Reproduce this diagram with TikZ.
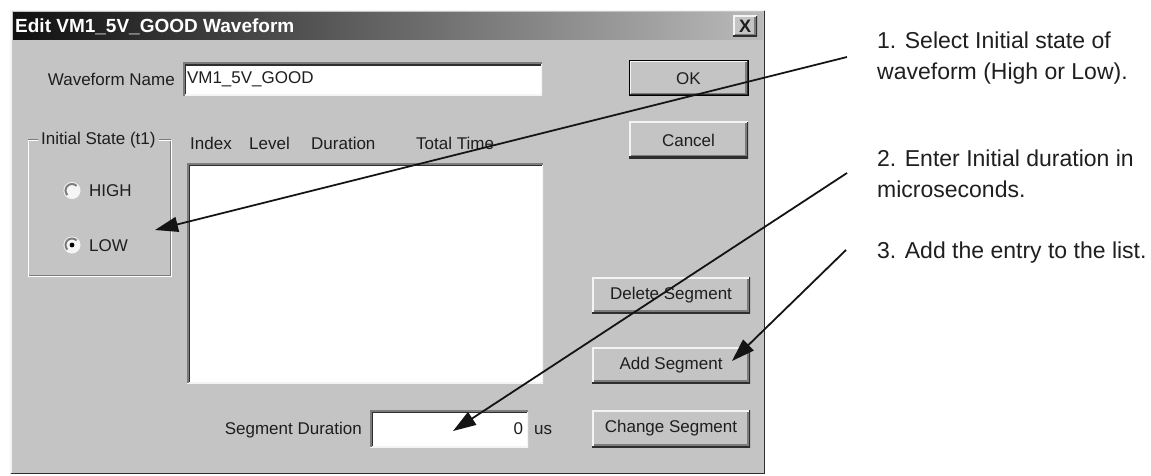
\documentclass[tikz,border=0pt]{standalone}
\usepackage{fontspec}
\setmainfont{Liberation Sans}
\usetikzlibrary{arrows.meta}
\definecolor{winbg}{HTML}{C4C4C4}
\definecolor{wintext}{HTML}{1E1E1E}
\definecolor{shadowc}{HTML}{7C7C7C}
\definecolor{darkc}{HTML}{2E2E2E}
\definecolor{lightc}{HTML}{F4F4F4}
\definecolor{titleL}{HTML}{101010}
\definecolor{titleR}{HTML}{BABABA}
\begin{document}
\begin{tikzpicture}[x=1pt,y=-1pt,
  dlg/.style={font=\fontsize{17}{20}\selectfont, text=wintext, inner sep=0pt},
  note/.style={font=\fontsize{23}{31}\selectfont, text=black!88, inner sep=0pt, align=left, anchor=base west},
  raised/.style={fill=winbg, inner sep=0pt, dlg, path picture={
      \draw[lightc,line width=3pt] (path picture bounding box.south west) -- (path picture bounding box.north west) -- (path picture bounding box.north east);
      \draw[darkc,line width=3pt] (path picture bounding box.south west) -- (path picture bounding box.south east) -- (path picture bounding box.north east);
      \draw[shadowc,line width=1.5pt] ([xshift=1.5pt,yshift=2.25pt]path picture bounding box.south west) -- ([xshift=-2.25pt,yshift=2.25pt]path picture bounding box.south east) -- ([xshift=-2.25pt,yshift=-1.5pt]path picture bounding box.north east);
  }},
  sunken/.style={fill=white, inner sep=0pt, path picture={
      \draw[lightc,line width=3pt] (path picture bounding box.south west) -- (path picture bounding box.south east) -- (path picture bounding box.north east);
      \draw[shadowc,line width=3pt] (path picture bounding box.south west) -- (path picture bounding box.north west) -- (path picture bounding box.north east);
      \draw[darkc,line width=1.5pt] ([xshift=2.25pt,yshift=1.5pt]path picture bounding box.south west) -- ([xshift=2.25pt,yshift=-2.25pt]path picture bounding box.north west) -- ([xshift=-1.5pt,yshift=-2.25pt]path picture bounding box.north east);
  }},
  radio/.style={circle, minimum size=16pt, inner sep=0pt, fill=white!96!black, draw=lightc, line width=1pt},
  rim/.style={shadowc, line width=2pt},
  arr/.style={line width=1.8pt, draw=black!92, -{Triangle[length=23pt,width=15pt]}},
]
\useasboundingbox (0,0) rectangle (1151,476);
\fill[white] (0,0) rectangle (1151,476);

% window frame
\fill[winbg] (10,10) rectangle (765,474);
\draw[lightc,line width=1.5pt] (10.75,473.25) -- (10.75,10.75) -- (764.25,10.75);
\draw[darkc,line width=1.5pt] (10.75,473.25) -- (764.25,473.25) -- (764.25,10.75);

% title bar
\shade[left color=titleL, right color=titleR] (13,13) rectangle (763,40);
\node[anchor=west, inner sep=0pt, text=white, font=\fontsize{19}{22}\bfseries] (title) at (15,27) {Edit VM1\_5V\_GOOD Waveform};
\node[raised, minimum width=24pt, minimum height=21pt, font=\fontsize{18}{18}\bfseries] (close) at (745,26.5) {X};

% waveform name
\node[dlg, anchor=east] (namelbl) at (175,79) {Waveform Name};
\node[sunken, minimum width=359pt, minimum height=33pt] (namefield) at (362.5,79.5) {};
\node[dlg, anchor=west] (nametext) at ([xshift=4pt]namefield.west) {VM1\_5V\_GOOD};

% OK / Cancel
\node[raised, minimum width=119pt, minimum height=35pt, draw=black, line width=1pt] (ok) at (688.5,78.5) {OK};
\node[raised, minimum width=119pt, minimum height=36pt] (cancel) at (688.5,140) {Cancel};

% initial state group
\node[draw=shadowc, line width=1pt, minimum width=142pt, minimum height=135pt, inner sep=0pt] (grp) at (99,207.5) {};
\draw[white, line width=1pt] ([xshift=1pt,yshift=-1pt]grp.south west) -- ([xshift=1pt,yshift=-1pt]grp.north west) -- ([xshift=1pt,yshift=-1pt]grp.north east) -- ([xshift=1pt,yshift=-1pt]grp.south east) -- cycle;
\node[dlg, anchor=west, fill=winbg, inner xsep=3pt, inner ysep=1pt] (grplbl) at (38,140) {Initial State (t1)};
\node[radio] (rhigh) at (72,190.5) {};
\draw[rim] (rhigh.center) ++(-45:6.5) arc[start angle=-45, end angle=-225, radius=6.5];
\node[dlg, anchor=west] (high) at (89,191) {HIGH};
\node[radio] (rlow) at (72,245) {};
\draw[rim] (rlow.center) ++(-45:6.5) arc[start angle=-45, end angle=-225, radius=6.5];
\fill[black] (rlow.center) circle (2.4pt);
\node[dlg, anchor=west] (low) at (89,245.5) {LOW};

% column headers
\node[dlg, anchor=west] (hindex) at (190,143) {Index};
\node[dlg, anchor=west] (hlevel) at (249,143) {Level};
\node[dlg, anchor=west] (hdur) at (311,143) {Duration};
\node[dlg, anchor=west] (htot) at (416,143) {Total Time};

% list box
\node[sunken, minimum width=356pt, minimum height=220pt] (list) at (365,273) {};

% segment buttons
\node[raised, minimum width=158pt, minimum height=36pt] (delseg) at (671,295) {Delete Segment};
\node[raised, minimum width=158pt, minimum height=36pt] (addseg) at (671,365) {Add Segment};
\node[raised, minimum width=158pt, minimum height=37pt] (chgseg) at (671,428.5) {Change Segment};

% segment duration
\node[dlg, anchor=east] (seglbl) at (362,430) {Segment Duration};
\node[sunken, minimum width=158pt, minimum height=37pt] (segfield) at (449,428.5) {};
\node[dlg, anchor=east] (segval) at ([xshift=-5pt]segfield.east) {0};
\node[dlg, anchor=west] (segunit) at (534,430) {us};

% notes (base anchor = last line)
\node[note] (note1) at (877,80) {1. Select Initial state of\\waveform (High or Low).};
\node[note] (note2) at (877,197) {2. Enter Initial duration in\\microseconds.};
\node[note] (note3) at (877,258) {3. Add the entry to the list.};

% arrows
\coordinate (s1) at (847,57);
\coordinate (t1) at (155,230);
\coordinate (s2) at (847,173);
\coordinate (t2) at (453,431);
\coordinate (s3) at (846,250);
\coordinate (t3) at (732,361);
\draw[arr] (s1) -- (t1);
\draw[arr] (s2) -- (t2);
\draw[arr] (s3) -- (t3);
\end{tikzpicture}
\end{document}
